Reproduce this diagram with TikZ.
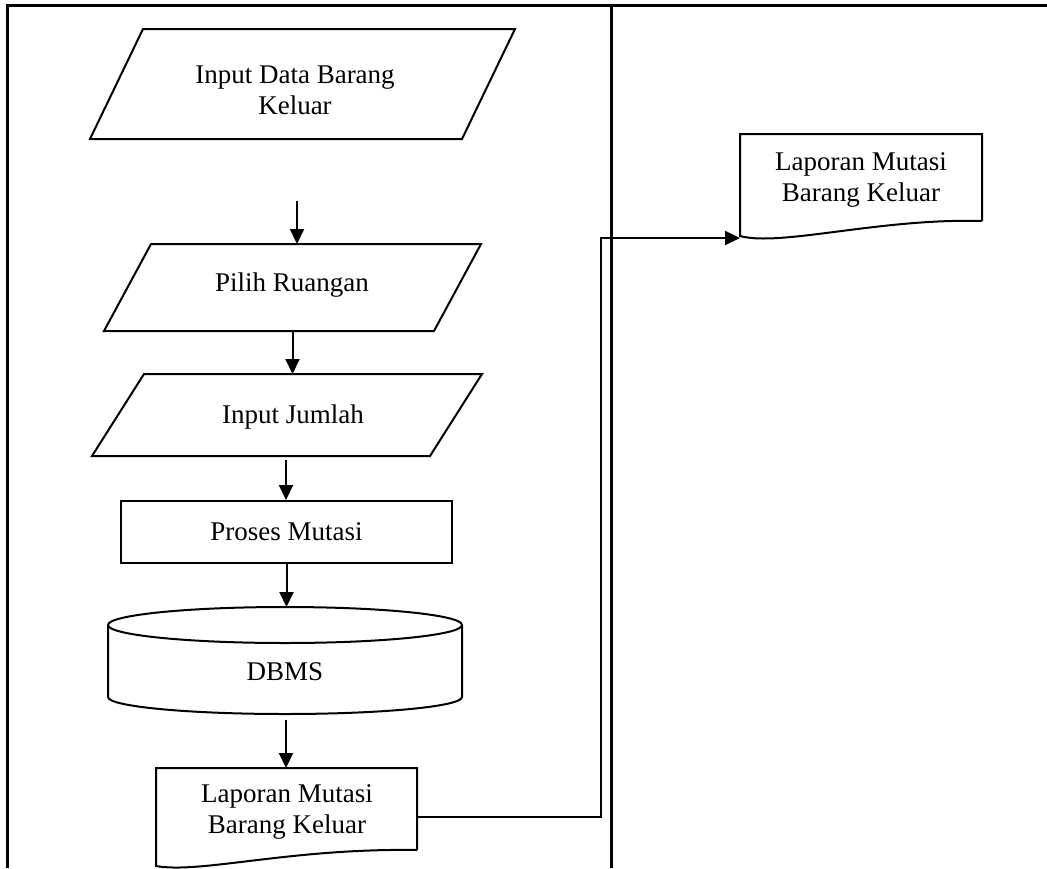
\documentclass[tikz,border=0pt]{standalone}
\usepackage{fontspec}
\setmainfont{Liberation Serif}
\usetikzlibrary{arrows.meta}
\newcommand\lblfont{\fontsize{27}{31}\selectfont}
\begin{document}
\begin{tikzpicture}[x=1pt,y=-1pt,
 box/.style={draw=none,inner sep=0pt,outer sep=0pt},
 txt/.style={font=\lblfont,align=center,inner sep=0pt},
 ln/.style={line width=2pt,line join=miter},
 arr/.style={line width=2pt,-{Triangle[length=15pt,width=14pt]}},
 frame/.style={line width=3pt}]
\useasboundingbox (0,0) rectangle (1047,868);
% frame
\draw[frame] (7,868) -- (7,5) -- (1047,5);
\draw[frame] (611,5) -- (611,868);
% input data barang keluar
\node[box,minimum width=425pt,minimum height=110pt] (p1) at (302.5,84) {};
\draw[ln] ([xshift=53pt]p1.north west) -- (p1.north east) -- ([xshift=-53pt]p1.south east) -- (p1.south west) -- cycle;
\node[txt] (t1) at (295,90) {Input Data Barang\\Keluar};
% pilih ruangan
\node[box,minimum width=377pt,minimum height=87pt] (p2) at (292.5,287.5) {};
\draw[ln] ([xshift=47pt]p2.north west) -- (p2.north east) -- ([xshift=-47pt]p2.south east) -- (p2.south west) -- cycle;
\node[txt] (t2) at (292,285) {Pilih Ruangan};
% input jumlah
\node[box,minimum width=390pt,minimum height=82pt] (p3) at (287,415) {};
\draw[ln] ([xshift=52pt]p3.north west) -- (p3.north east) -- ([xshift=-52pt]p3.south east) -- (p3.south west) -- cycle;
\node[txt] (t3) at (293,417) {Input Jumlah};
% proses mutasi
\node[draw,ln,minimum width=331pt,minimum height=62pt,inner sep=0pt,font=\lblfont] (pm) at (286.5,532) {Proses Mutasi};
% DBMS
\node[box,minimum width=354pt,minimum height=107pt] (db) at (285,660.5) {};
\draw[ln] (285,625) ellipse [x radius=177pt, y radius=18pt];
\draw[ln] (108,625) -- (108,697) arc[start angle=180, end angle=360, x radius=177pt, y radius=17pt] -- (462,625);
\node[txt] (tdb) at (285,672) {DBMS};
% laporan (left)
\node[box,minimum width=261pt,minimum height=98pt] (d1) at (286.5,817) {};
\draw[ln] (417,850) -- (417,768) -- (156,768) -- (156,866) .. controls (200,874) and (290,848) .. (417,850);
\node[txt] (td1) at (287,812) {Laporan Mutasi\\Barang Keluar};
% laporan (right)
\node[box,minimum width=242pt,minimum height=102pt] (d2) at (861,185) {};
\draw[ln] (982,221) -- (982,134) -- (740,134) -- (740,236) .. controls (780,247) and (880,218) .. (982,221);
\node[txt] (td2) at (861,180) {Laporan Mutasi\\Barang Keluar};
% connectors
\coordinate (s1) at (297,201);
\draw[arr] (s1) -- (s1 |- p2.north);
\draw[arr] (p2.south) -- (p2.south |- p3.north);
\coordinate (s3) at (286,460);
\draw[arr] (s3) -- (s3 |- pm.north);
\draw[arr] (pm.south) -- (pm.south |- db.north);
\coordinate (s5) at (286,720);
\draw[arr] (s5) -- (s5 |- d1.north);
\coordinate (cx) at (601,500);
\draw[arr] (d1.east) -| (cx) |- ([yshift=-2pt]d2.south west);
\end{tikzpicture}
\end{document}
